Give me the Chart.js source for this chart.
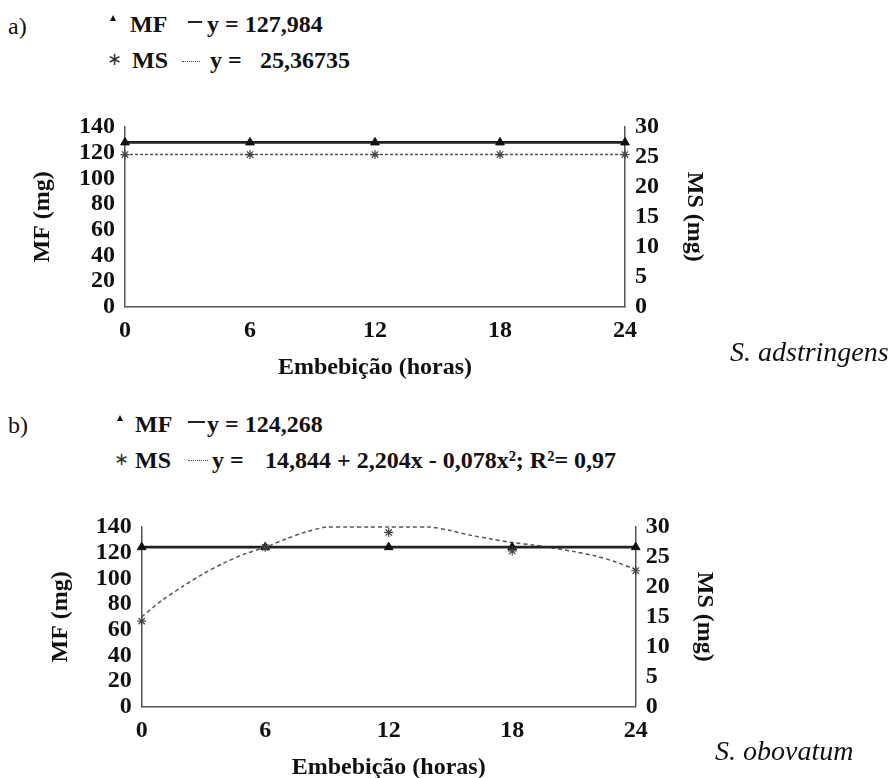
<!DOCTYPE html>
<html>
<head>
<meta charset="utf-8">
<script src="https://cdn.jsdelivr.net/npm/chart.js@4.4.1/dist/chart.umd.min.js"></script>
<style>
  body { margin:0; width:896px; height:778px; overflow:hidden; background:#fff; position:relative; font-family:'Liberation Serif', serif; color:#111; }
  .t { position:absolute; font-family:'Liberation Serif', serif; font-size:24px; line-height:24px; font-weight:bold; white-space:pre; }
  .r { font-weight:normal; }
  .sp { position:absolute; font-family:'Liberation Serif', serif; font-size:28px; line-height:28px; font-style:italic; white-space:pre; }
  .tri { position:absolute; width:0; height:0; border-left:3px solid transparent; border-right:3px solid transparent; border-bottom:6px solid #111; }
  .ast { position:absolute; font-size:18px; line-height:18px; font-family:'DejaVu Sans', sans-serif; color:#333; }
  .solid { position:absolute; height:2px; background:#222; }
  .dots { position:absolute; height:0; border-top:1.5px dotted #444; }
  canvas { position:absolute; left:0; }
</style>
</head>
<body>
<!-- a) -->
<div class="t r" style="left:8px;top:14px">a)</div>
<div class="tri" style="left:110px;top:15px"></div>
<div class="t" style="left:130px;top:12px">MF</div>
<div class="solid" style="left:188px;top:21px;width:14px"></div>
<div class="t" style="left:207px;top:12px">y = 127,984</div>
<div class="ast" style="left:107px;top:50px">∗</div>
<div class="t" style="left:132px;top:48px">MS</div>
<div class="dots" style="left:182px;top:61px;width:18px"></div>
<div class="t" style="left:210px;top:48px">y =</div>
<div class="t" style="left:260px;top:48px">25,36735</div>
<canvas id="chartA" width="760" height="290" style="top:100px"></canvas>
<div class="sp" style="left:730px;top:338px">S. adstringens</div>

<!-- b) -->
<div class="t r" style="left:8px;top:413px">b)</div>
<div class="tri" style="left:117px;top:415px"></div>
<div class="t" style="left:135px;top:412px">MF</div>
<div class="solid" style="left:188px;top:421px;width:17px"></div>
<div class="t" style="left:207px;top:412px">y = 124,268</div>
<div class="ast" style="left:114px;top:450px">∗</div>
<div class="t" style="left:135px;top:448px">MS</div>
<div class="dots" style="left:188px;top:460px;width:20px"></div>
<div class="t" style="left:212px;top:448px">y =</div>
<div class="t" style="left:265px;top:448px">14,844 + 2,204x - 0,078x²; R²= 0,97</div>
<canvas id="chartB" width="770" height="290" style="top:500px"></canvas>
<div class="sp" style="left:715px;top:737px">S. obovatum</div>

<script>
// tick labels
const hours = [0, 6, 12, 18, 24];
const mfTicks = [0, 20, 40, 60, 80, 100, 120, 140];
const msTicks = [0, 5, 10, 15, 20, 25, 30];

// a) S. adstringens (observed points sit on the fitted constant lines)
const mfA = [128.0, 128.0, 128.0, 128.0, 128.0];
const msA = [25.4, 25.4, 25.4, 25.4, 25.4];

// b) S. obovatum
const mfB = [124.3, 124.3, 124.3, 124.3, 124.3];
const msB = [14.3, 26.6, 29.1, 26.0, 22.7];
// dashed MS trend curve
const msCurveHours = [0, 1, 2, 3, 4, 5, 6, 7, 8, 9, 10, 11, 12, 13, 14, 15, 16, 17, 18, 19, 20, 21, 22, 23, 24];
const msCurve = [15.0, 17.8, 20.1, 22.2, 24.0, 25.5, 26.6, 28.0, 29.2, 30.0, 30.0, 30.0, 30.0, 30.0, 30.0, 29.4, 28.6, 28.0, 27.4, 27.0, 26.5, 25.9, 25.2, 24.2, 22.9];

const FONT = "'Liberation Serif', serif";
const AXIS = '#555';

function pts(xs, ys) {
    return xs.map((x, i) => ({x: x, y: ys[i]}));
}

function fixTicks(list) {
    return function (scale) {
        scale.ticks = list.map(v => ({value: v}));
    };
}

function CreateChart(elementId, datasets, leftW, rightW, leftPad, rightPad) {
    const tickFont = {family: FONT, size: 24, weight: 'bold'};
    const config = {
        type: 'line',
        data: {datasets: datasets},
        options: {
            responsive: false,
            animation: false,
            layout: {padding: {top: 27, left: 0, right: 0, bottom: 0}},
            plugins: {legend: {display: false}, tooltip: {enabled: false}},
            scales: {
                x: {
                    type: 'linear', min: 0, max: 24,
                    afterBuildTicks: fixTicks(hours),
                    afterFit: s => { s.height = 83.3; },
                    grid: {display: false, drawTicks: false},
                    border: {display: true, color: AXIS, width: 1.5},
                    ticks: {font: tickFont, color: '#111', padding: 10, maxRotation: 0},
                    title: {display: true, text: 'Embebição (horas)', font: tickFont, color: '#111', padding: {top: 0, bottom: 7.6}}
                },
                y: {
                    position: 'left', min: 0, max: 140,
                    afterBuildTicks: fixTicks(mfTicks),
                    afterFit: s => { s.width = leftW; },
                    grid: {display: false, drawTicks: false},
                    border: {display: true, color: AXIS, width: 1.5},
                    ticks: {font: tickFont, color: '#111', padding: 10, autoSkip: false},
                    title: {display: true, text: 'MF (mg)', font: tickFont, color: '#111', padding: {top: leftPad, bottom: 0}}
                },
                y2: {
                    position: 'right', min: 0, max: 30,
                    afterBuildTicks: fixTicks(msTicks),
                    afterFit: s => { s.width = rightW; },
                    grid: {display: false, drawTicks: false},
                    border: {display: true, color: AXIS, width: 1.5},
                    ticks: {font: tickFont, color: '#111', padding: 10, autoSkip: false},
                    title: {display: true, text: 'MS (mg)', font: tickFont, color: '#111', padding: {top: rightPad, bottom: 0}}
                }
            }
        }
    };
    return new Chart(document.getElementById(elementId), config);
}

CreateChart('chartA', [
    {
        label: 'MF', data: pts(hours, mfA), yAxisID: 'y',
        borderColor: '#222', borderWidth: 2.8, clip: false,
        pointStyle: 'triangle', pointRadius: 5, pointBackgroundColor: '#111', pointBorderColor: '#111', pointBorderWidth: 1
    },
    {
        label: 'MS', data: pts(hours, msA), yAxisID: 'y2',
        borderColor: '#555', borderWidth: 1.5, borderDash: [3, 2], clip: false,
        pointStyle: 'star', pointRadius: 4.5, pointBorderColor: '#444', pointBorderWidth: 1.2, pointBackgroundColor: '#444'
    }
], 125, 135, 28.6, 51.6);

CreateChart('chartB', [
    {
        label: 'MS', data: pts(hours, msB), yAxisID: 'y2', showLine: false, clip: false,
        pointStyle: 'star', pointRadius: 4.5, pointBorderColor: '#444', pointBorderWidth: 1.2, pointBackgroundColor: '#444'
    },
    {
        label: 'MF', data: pts(hours, mfB), yAxisID: 'y',
        borderColor: '#222', borderWidth: 2.8, clip: false,
        pointStyle: 'triangle', pointRadius: 5, pointBackgroundColor: '#111', pointBorderColor: '#111', pointBorderWidth: 1
    },
    {
        label: 'MS ajuste', data: pts(msCurveHours, msCurve), yAxisID: 'y2',
        borderColor: '#555', borderWidth: 1.5, borderDash: [4, 3], tension: 0.3, pointRadius: 0, clip: 2
    }
], 141.7, 134.3, 46.6, 51.6);
</script>
</body>
</html>
